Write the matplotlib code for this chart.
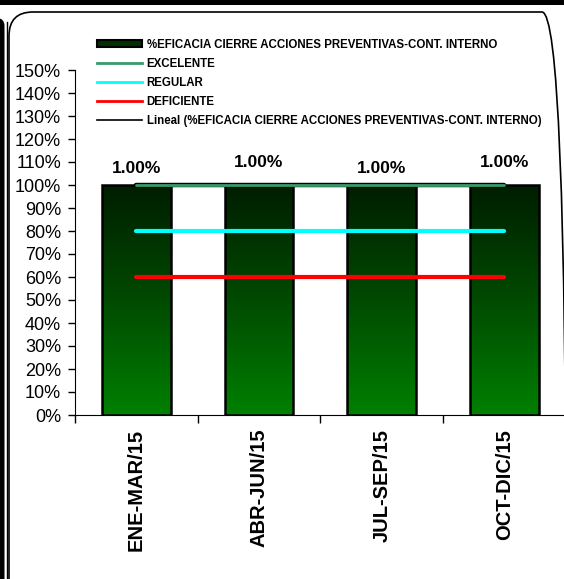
import numpy as np
import matplotlib
matplotlib.use("Agg")
import matplotlib.pyplot as plt
import matplotlib.patches as mpatches
from matplotlib.lines import Line2D
from matplotlib.colors import LinearSegmentedColormap
from matplotlib.transforms import IdentityTransform

plt.rcParams["font.family"] = ["Liberation Sans", "DejaVu Sans"]

# data
periodos = ["ENE-MAR/15", "ABR-JUN/15", "JUL-SEP/15", "OCT-DIC/15"]
eficacia = [1.00, 1.00, 1.00, 1.00]
excelente = [1.00, 1.00, 1.00, 1.00]
regular = [0.80, 0.80, 0.80, 0.80]
deficiente = [0.60, 0.60, 0.60, 0.60]
etiquetas = ["1.00%", "1.00%", "1.00%", "1.00%"]
yticks = np.arange(0, 1.51, 0.1)

W, H = 564, 579
fig = plt.figure(figsize=(W / 100, H / 100), dpi=100)
pix = IdentityTransform()  # display pixels, origin bottom-left


def px(x, y):
    return x / W, 1 - y / H


# page decoration (frame of the original sheet)
fig.patches.append(mpatches.Rectangle((0, H - 5), W, 6, transform=pix,
                                      facecolor="black", edgecolor="none"))
fig.patches.append(mpatches.FancyBboxPatch((-10, -20), 14.5, H - 18 + 20,
                                           boxstyle="round,pad=0,rounding_size=8",
                                           transform=pix,
                                           facecolor="black", edgecolor="none"))
fig.add_artist(Line2D([6.5, 6.5], [-5, H - 22], transform=pix, color="black", lw=1))
fig.patches.append(mpatches.FancyBboxPatch((9, -30), 557, H - 12 + 30,
                                           boxstyle="round,pad=0,rounding_size=24",
                                           transform=pix,
                                           facecolor="none", edgecolor="black", lw=1.2))

ax = fig.add_axes([75 / W, 164 / H, 489 / W, 345 / H])
x = np.arange(len(periodos))
ancho = 0.56

cmap = LinearSegmentedColormap.from_list("verde", ["#008000", "#004a00", "#001e00"])
grad = np.linspace(0, 1, 256).reshape(-1, 1)
barras = ax.bar(x, eficacia, ancho, facecolor="none", edgecolor="black", lw=1.8, zorder=3)
for b in barras:
    im = ax.imshow(grad, cmap=cmap, origin="lower", aspect="auto",
                   extent=(b.get_x(), b.get_x() + b.get_width(), 0, b.get_height()), zorder=2)
    im.set_clip_path(b)

ax.plot(x, eficacia, color="black", lw=3.2, zorder=4, solid_capstyle="round")
ax.plot(x, excelente, color="#3a9a6a", lw=2, zorder=5, solid_capstyle="round")
ax.plot(x, regular, color="#00ffff", lw=3, zorder=5, solid_capstyle="round")
ax.plot(x, deficiente, color="#ff0000", lw=3, zorder=5, solid_capstyle="round")

offsets = [12, 16.5, 12, 16.5]
for xi, v, t, o in zip(x, eficacia, etiquetas, offsets):
    ax.annotate(t, (xi, v), xytext=(0, o), textcoords="offset points",
                ha="center", va="center", fontsize=12.5, fontweight="bold")

ax.set_xlim(-0.5, -0.5 + 489 / 122.7)
ax.set_ylim(0, 1.5)
ax.set_yticks(yticks)
ax.set_yticklabels([f"{int(round(v * 100))}%" for v in yticks], fontsize=13)
ax.set_xticks(np.arange(-0.5, 3.5, 1))
ax.set_xticklabels([])
ax.tick_params(axis="y", direction="out", length=5, width=1, pad=5)
ax.tick_params(axis="x", direction="out", length=6, width=1)
for xi, lab in zip(x, periodos):
    ax.text(xi, -0.04, lab, rotation=90, ha="center", va="top", fontsize=14.5,
            fontweight="bold", transform=ax.get_xaxis_transform())
ax.spines["top"].set_visible(False)
ax.spines["right"].set_visible(False)
ax.patch.set_alpha(0)

handles = [
    mpatches.Patch(facecolor="#003000", edgecolor="black", lw=1.5),
    Line2D([], [], color="#3a9a6a", lw=2),
    Line2D([], [], color="#00ffff", lw=2),
    Line2D([], [], color="#ff0000", lw=2),
    Line2D([], [], color="black", lw=1.2),
]
labels = [
    "%EFICACIA CIERRE ACCIONES PREVENTIVAS-CONT. INTERNO",
    "EXCELENTE",
    "REGULAR",
    "DEFICIENTE",
    "Lineal (%EFICACIA CIERRE ACCIONES PREVENTIVAS-CONT. INTERNO)",
]
fig.legend(handles, labels, loc="upper left", bbox_to_anchor=px(97, 38.5),
           frameon=False, prop={"size": 8.3, "weight": "bold"}, handlelength=3.9,
           handleheight=0.5, handletextpad=0.4, labelspacing=0.62, borderpad=0,
           borderaxespad=0)

fig.savefig("out.png", dpi=100)
